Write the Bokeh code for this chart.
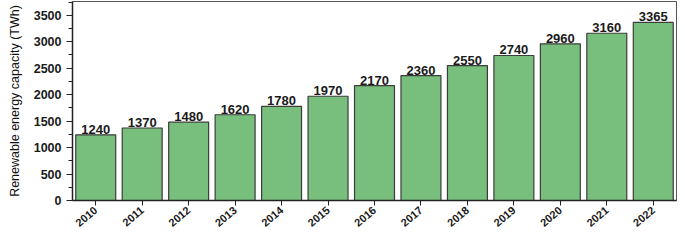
import math
from bokeh.plotting import figure
from bokeh.models import ColumnDataSource, LabelSet, Range1d, SingleIntervalTicker
from bokeh.core.properties import value
from bokeh.embed import file_html
from bokeh.resources import INLINE

years = ["2010", "2011", "2012", "2013", "2014", "2015", "2016",
         "2017", "2018", "2019", "2020", "2021", "2022"]
capacity = [1240, 1370, 1480, 1620, 1780, 1970, 2170,
            2360, 2550, 2740, 2960, 3160, 3365]
labels = [str(v) for v in capacity]

src = ColumnDataSource(dict(year=years, cap=capacity, lab=labels))

p = figure(x_range=years, y_range=Range1d(0, 3760), width=677, height=233,
           output_backend="svg", toolbar_location=None)
p.min_border_left = 72
p.min_border_right = 1
p.min_border_top = 1
p.min_border_bottom = 27

p.vbar(x="year", top="cap", width=0.86, source=src,
       fill_color="#78be7c", line_color="#3c3c3c", line_width=1.2)

lbl = LabelSet(x="year", y="cap", text="lab", source=src, text_align="center",
               text_baseline="bottom", y_offset=1, text_font_size="13px",
               text_font_style="bold", text_color="#1a1a1a",
               text_font=value("Liberation Sans"))
p.add_layout(lbl)

p.xgrid.grid_line_color = None
p.ygrid.grid_line_color = None
p.x_range.range_padding = 0
p.outline_line_color = "#555555"
p.outline_line_width = 1

p.yaxis.ticker = SingleIntervalTicker(interval=500, num_minor_ticks=2)
p.yaxis.axis_label = "Renewable energy capacity (TWh)"
p.yaxis.axis_label_text_font = "Liberation Sans"
p.yaxis.axis_label_text_font_style = "normal"
p.yaxis.axis_label_text_font_size = "12.5px"
p.yaxis.axis_label_text_color = "#111111"
p.yaxis.axis_label_standoff = 9
p.yaxis.major_label_text_font = "Liberation Sans"
p.yaxis.major_label_text_font_style = "bold"
p.yaxis.major_label_text_font_size = "12.5px"
p.yaxis.major_label_text_color = "#1a1a1a"
p.yaxis.major_label_standoff = 5
p.yaxis.major_tick_in = 0
p.yaxis.major_tick_out = 6
p.yaxis.minor_tick_in = 0
p.yaxis.minor_tick_out = 4
p.yaxis.axis_line_width = 1.5
p.yaxis.axis_line_color = "#222222"
p.yaxis.major_tick_line_color = "#222222"
p.yaxis.minor_tick_line_color = "#222222"

p.xaxis.major_label_orientation = math.pi / 4.5
p.xaxis.major_label_text_font = "Liberation Sans"
p.xaxis.major_label_text_font_style = "bold"
p.xaxis.major_label_text_font_size = "11px"
p.xaxis.major_label_text_color = "#1a1a1a"
p.xaxis.major_label_standoff = 3
p.xaxis.major_tick_in = 0
p.xaxis.major_tick_out = 5
p.xaxis.axis_line_width = 1.5
p.xaxis.axis_line_color = "#222222"
p.xaxis.major_tick_line_color = "#222222"

open("out.html", "w").write(file_html(p, INLINE))
